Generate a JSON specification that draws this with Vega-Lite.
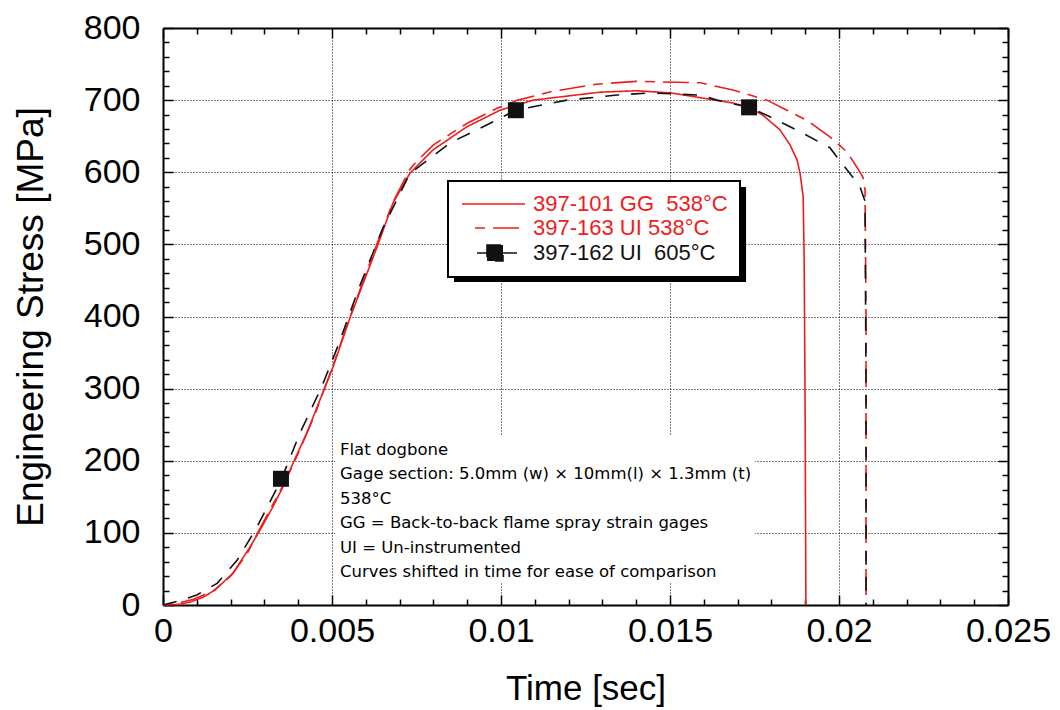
{
  "$schema": "https://vega.github.io/schema/vega-lite/v6.json",
  "autosize": "none",
  "width": 845,
  "height": 577,
  "padding": {"left": 163, "top": 28, "right": 52, "bottom": 105},
  "background": "white",
  "config": {
    "font": "Liberation Sans",
    "view": {"stroke": null},
    "axis": {
      "domainColor": "black", "domainWidth": 2,
      "tickColor": "black", "tickWidth": 1.5,
      "labelColor": "black", "titleColor": "black", "titleFontWeight": "normal",
      "labelFont": "Liberation Sans", "titleFont": "Liberation Sans"
    }
  },
  "data": {
    "values": [
      {"t": 0, "s": 0, "series": "397-101 GG\u00a0 538°C"},
      {"t": 0.0005, "s": 1, "series": "397-101 GG\u00a0 538°C"},
      {"t": 0.0008, "s": 4, "series": "397-101 GG\u00a0 538°C"},
      {"t": 0.0012, "s": 11, "series": "397-101 GG\u00a0 538°C"},
      {"t": 0.00154, "s": 21, "series": "397-101 GG\u00a0 538°C"},
      {"t": 0.00207, "s": 44, "series": "397-101 GG\u00a0 538°C"},
      {"t": 0.00257, "s": 80, "series": "397-101 GG\u00a0 538°C"},
      {"t": 0.00287, "s": 104, "series": "397-101 GG\u00a0 538°C"},
      {"t": 0.00325, "s": 136, "series": "397-101 GG\u00a0 538°C"},
      {"t": 0.00355, "s": 164, "series": "397-101 GG\u00a0 538°C"},
      {"t": 0.00385, "s": 197, "series": "397-101 GG\u00a0 538°C"},
      {"t": 0.00426, "s": 239, "series": "397-101 GG\u00a0 538°C"},
      {"t": 0.00464, "s": 284, "series": "397-101 GG\u00a0 538°C"},
      {"t": 0.00503, "s": 330, "series": "397-101 GG\u00a0 538°C"},
      {"t": 0.00553, "s": 398, "series": "397-101 GG\u00a0 538°C"},
      {"t": 0.00633, "s": 496, "series": "397-101 GG\u00a0 538°C"},
      {"t": 0.0068, "s": 557, "series": "397-101 GG\u00a0 538°C"},
      {"t": 0.00731, "s": 599, "series": "397-101 GG\u00a0 538°C"},
      {"t": 0.00799, "s": 631, "series": "397-101 GG\u00a0 538°C"},
      {"t": 0.00899, "s": 663, "series": "397-101 GG\u00a0 538°C"},
      {"t": 0.00997, "s": 686, "series": "397-101 GG\u00a0 538°C"},
      {"t": 0.01095, "s": 700, "series": "397-101 GG\u00a0 538°C"},
      {"t": 0.01293, "s": 711, "series": "397-101 GG\u00a0 538°C"},
      {"t": 0.014, "s": 713, "series": "397-101 GG\u00a0 538°C"},
      {"t": 0.01503, "s": 710, "series": "397-101 GG\u00a0 538°C"},
      {"t": 0.01686, "s": 696, "series": "397-101 GG\u00a0 538°C"},
      {"t": 0.01734, "s": 690, "series": "397-101 GG\u00a0 538°C"},
      {"t": 0.01775, "s": 679, "series": "397-101 GG\u00a0 538°C"},
      {"t": 0.01825, "s": 659, "series": "397-101 GG\u00a0 538°C"},
      {"t": 0.01855, "s": 638, "series": "397-101 GG\u00a0 538°C"},
      {"t": 0.01876, "s": 617, "series": "397-101 GG\u00a0 538°C"},
      {"t": 0.01885, "s": 598, "series": "397-101 GG\u00a0 538°C"},
      {"t": 0.01894, "s": 566, "series": "397-101 GG\u00a0 538°C"},
      {"t": 0.01897, "s": 478, "series": "397-101 GG\u00a0 538°C"},
      {"t": 0.019, "s": 250, "series": "397-101 GG\u00a0 538°C"},
      {"t": 0.01902, "s": 0, "series": "397-101 GG\u00a0 538°C"},

      {"t": 0, "s": 0, "series": "397-163 UI 538°C"},
      {"t": 0.0004, "s": 2, "series": "397-163 UI 538°C"},
      {"t": 0.0009, "s": 8, "series": "397-163 UI 538°C"},
      {"t": 0.0015, "s": 20, "series": "397-163 UI 538°C"},
      {"t": 0.002, "s": 40, "series": "397-163 UI 538°C"},
      {"t": 0.0025, "s": 72, "series": "397-163 UI 538°C"},
      {"t": 0.0028, "s": 100, "series": "397-163 UI 538°C"},
      {"t": 0.0032, "s": 135, "series": "397-163 UI 538°C"},
      {"t": 0.0036, "s": 170, "series": "397-163 UI 538°C"},
      {"t": 0.004, "s": 210, "series": "397-163 UI 538°C"},
      {"t": 0.0045, "s": 265, "series": "397-163 UI 538°C"},
      {"t": 0.005, "s": 328, "series": "397-163 UI 538°C"},
      {"t": 0.0055, "s": 395, "series": "397-163 UI 538°C"},
      {"t": 0.0063, "s": 497, "series": "397-163 UI 538°C"},
      {"t": 0.0068, "s": 558, "series": "397-163 UI 538°C"},
      {"t": 0.0073, "s": 604, "series": "397-163 UI 538°C"},
      {"t": 0.0075, "s": 615, "series": "397-163 UI 538°C"},
      {"t": 0.008, "s": 638, "series": "397-163 UI 538°C"},
      {"t": 0.009, "s": 668, "series": "397-163 UI 538°C"},
      {"t": 0.0099, "s": 689, "series": "397-163 UI 538°C"},
      {"t": 0.0105, "s": 700, "series": "397-163 UI 538°C"},
      {"t": 0.0115, "s": 712, "series": "397-163 UI 538°C"},
      {"t": 0.0128, "s": 722, "series": "397-163 UI 538°C"},
      {"t": 0.014, "s": 726, "series": "397-163 UI 538°C"},
      {"t": 0.0159, "s": 724, "series": "397-163 UI 538°C"},
      {"t": 0.01686, "s": 714, "series": "397-163 UI 538°C"},
      {"t": 0.01787, "s": 700, "series": "397-163 UI 538°C"},
      {"t": 0.01846, "s": 686, "series": "397-163 UI 538°C"},
      {"t": 0.01905, "s": 672, "series": "397-163 UI 538°C"},
      {"t": 0.01973, "s": 649, "series": "397-163 UI 538°C"},
      {"t": 0.02024, "s": 628, "series": "397-163 UI 538°C"},
      {"t": 0.02053, "s": 607, "series": "397-163 UI 538°C"},
      {"t": 0.02071, "s": 593, "series": "397-163 UI 538°C"},
      {"t": 0.02077, "s": 575, "series": "397-163 UI 538°C"},
      {"t": 0.0208, "s": 400, "series": "397-163 UI 538°C"},
      {"t": 0.0208, "s": 0, "series": "397-163 UI 538°C"},

      {"t": 0, "s": 0, "series": "397-162 UI\u00a0 605°C"},
      {"t": 0.0005, "s": 6, "series": "397-162 UI\u00a0 605°C"},
      {"t": 0.001, "s": 14, "series": "397-162 UI\u00a0 605°C"},
      {"t": 0.0016, "s": 30, "series": "397-162 UI\u00a0 605°C"},
      {"t": 0.00219, "s": 62, "series": "397-162 UI\u00a0 605°C"},
      {"t": 0.00278, "s": 108, "series": "397-162 UI\u00a0 605°C"},
      {"t": 0.00349, "s": 173, "series": "397-162 UI\u00a0 605°C"},
      {"t": 0.00405, "s": 238, "series": "397-162 UI\u00a0 605°C"},
      {"t": 0.0047, "s": 303, "series": "397-162 UI\u00a0 605°C"},
      {"t": 0.0052, "s": 362, "series": "397-162 UI\u00a0 605°C"},
      {"t": 0.0058, "s": 440, "series": "397-162 UI\u00a0 605°C"},
      {"t": 0.0065, "s": 522, "series": "397-162 UI\u00a0 605°C"},
      {"t": 0.0073, "s": 598, "series": "397-162 UI\u00a0 605°C"},
      {"t": 0.0085, "s": 641, "series": "397-162 UI\u00a0 605°C"},
      {"t": 0.0093, "s": 659, "series": "397-162 UI\u00a0 605°C"},
      {"t": 0.01044, "s": 686, "series": "397-162 UI\u00a0 605°C"},
      {"t": 0.01195, "s": 700, "series": "397-162 UI\u00a0 605°C"},
      {"t": 0.01343, "s": 707, "series": "397-162 UI\u00a0 605°C"},
      {"t": 0.01441, "s": 710, "series": "397-162 UI\u00a0 605°C"},
      {"t": 0.01589, "s": 707, "series": "397-162 UI\u00a0 605°C"},
      {"t": 0.01639, "s": 700, "series": "397-162 UI\u00a0 605°C"},
      {"t": 0.01734, "s": 690, "series": "397-162 UI\u00a0 605°C"},
      {"t": 0.01796, "s": 677, "series": "397-162 UI\u00a0 605°C"},
      {"t": 0.01885, "s": 656, "series": "397-162 UI\u00a0 605°C"},
      {"t": 0.01973, "s": 634, "series": "397-162 UI\u00a0 605°C"},
      {"t": 0.01994, "s": 621, "series": "397-162 UI\u00a0 605°C"},
      {"t": 0.02041, "s": 593, "series": "397-162 UI\u00a0 605°C"},
      {"t": 0.02062, "s": 580, "series": "397-162 UI\u00a0 605°C"},
      {"t": 0.02077, "s": 560, "series": "397-162 UI\u00a0 605°C"},
      {"t": 0.0208, "s": 300, "series": "397-162 UI\u00a0 605°C"},
      {"t": 0.0208, "s": 0, "series": "397-162 UI\u00a0 605°C"}
    ]
  },
  "resolve": {"axis": {"x": "independent", "y": "independent"}},
  "layer": [
    {
      "data": {"values": [{}]},
      "mark": {"type": "rect", "fill": "white"},
      "encoding": {
        "x": {"datum": 0.00509, "type": "quantitative", "axis": null},
        "x2": {"datum": 0.01751},
        "y": {"datum": 235.7, "type": "quantitative", "axis": null},
        "y2": {"datum": 30.5}
      }
    },
    {
      "data": {"values": [{}]},
      "mark": {
        "type": "text", "align": "left", "baseline": "alphabetic",
        "font": "DejaVu Sans", "fontSize": 16.5, "lineHeight": 24.4, "color": "black",
        "text": ["Flat dogbone", "Gage section: 5.0mm (w) × 10mm(l) × 1.3mm (t)", "538°C", "GG = Back-to-back flame spray strain gages", "UI = Un-instrumented", "Curves shifted in time for ease of comparison"]
      },
      "encoding": {
        "x": {"datum": 0.005237, "type": "quantitative", "axis": null},
        "y": {"datum": 208, "type": "quantitative", "axis": null}
      }
    },
    {
      "data": {"values": [{}]},
      "mark": {"type": "rect", "fill": "black"},
      "encoding": {
        "x": {"datum": 0.00861, "type": "quantitative", "axis": null},
        "x2": {"datum": 0.01725},
        "y": {"datum": 579.5, "type": "quantitative", "axis": null},
        "y2": {"datum": 447.8}
      }
    },
    {
      "mark": {"type": "line", "strokeWidth": 1.6},
      "encoding": {
        "x": {
          "field": "t", "type": "quantitative",
          "scale": {"domain": [0, 0.025], "nice": false},
          "axis": {
            "orient": "bottom",
            "title": "Time [sec]", "titleFontSize": 35, "titlePadding": 19,
            "values": [0,0.001,0.002,0.003,0.004,0.005,0.006,0.007,0.008,0.009,0.01,0.011,0.012,0.013,0.014,0.015,0.016,0.017,0.018,0.019,0.02,0.021,0.022,0.023,0.024,0.025],
            "labelExpr": "round(datum.value*1000) % 5 === 0 ? format(datum.value, '~g') : ''",
            "labelFontSize": 34, "labelPadding": 19, "labelFlush": false, "labelOverlap": false, "labelBound": false,
            "tickSize": {"condition": {"test": "round(datum.value*1000) % 5 === 0", "value": -10}, "value": -6},
            "grid": true, "gridColor": "black", "gridDash": [1, 2], "gridWidth": 1,
            "gridOpacity": {"condition": {"test": "round(datum.value*1000) % 5 === 0", "value": 1}, "value": 0}
          }
        },
        "y": {
          "field": "s", "type": "quantitative",
          "scale": {"domain": [0, 800], "nice": false},
          "axis": {
            "orient": "left",
            "title": "Engineering Stress [MPa]", "titleFontSize": 37, "titlePadding": 33,
            "values": [0,20,40,60,80,100,120,140,160,180,200,220,240,260,280,300,320,340,360,380,400,420,440,460,480,500,520,540,560,580,600,620,640,660,680,700,720,740,760,780,800],
            "labelExpr": "datum.value % 100 === 0 ? datum.label : ''",
            "labelFontSize": 34, "labelPadding": 33, "labelOverlap": false, "labelBound": false, "labelFlush": false,
            "tickSize": {"condition": {"test": "datum.value % 100 === 0", "value": -10}, "value": -6},
            "grid": true, "gridColor": "black", "gridDash": [1, 2], "gridWidth": 1,
            "gridOpacity": {"condition": {"test": "datum.value % 100 === 0", "value": 1}, "value": 0}
          }
        },
        "color": {
          "field": "series", "type": "nominal",
          "scale": {"domain": ["397-101 GG\u00a0 538°C", "397-163 UI 538°C", "397-162 UI\u00a0 605°C"], "range": ["#f01c1c", "#f01c1c", "#111111"]},
          "legend": {
            "orient": "none", "legendX": 285, "legendY": 153, "title": null,
            "padding": 12, "fillColor": "white", "strokeColor": "black",
            "symbolType": "M-1.8,0H10.8", "symbolSize": 100, "symbolStrokeWidth": 1.6,
            "labelOffset": 51, "labelFont": "Liberation Sans", "labelFontSize": 22, "labelLimit": 0,
            "rowPadding": 2,
            "encode": {
              "legend": {"update": {"strokeWidth": {"value": 2}}},
              "labels": {"update": {"fill": [{"test": "indexof(datum.value, '162') >= 0", "value": "#111111"}, {"value": "#f01c1c"}]}},
              "symbols": {
                "update": {
                  "shape": [{"test": "indexof(datum.value, '162') >= 0", "value": "M1.2,0H10.2M3.2,-1.6H6.4V1.6H3.2Z"}, {"test": "indexof(datum.value, '163') >= 0", "value": "M0.8,0H10.8"}, {"value": "M-1.8,0H10.8"}],
                  "fill": [{"test": "indexof(datum.value, '162') >= 0", "value": "#111111"}, {"value": "transparent"}],
                  "strokeDash": [{"test": "indexof(datum.value, '162') >= 0", "value": [14, 12]}, {"test": "indexof(datum.value, '163') >= 0", "value": [10, 8, 26, 8]}, {"value": [1, 0]}]
                }
              }
            }
          }
        },
        "strokeDash": {
          "field": "series", "type": "nominal", "legend": null,
          "scale": {"domain": ["397-101 GG\u00a0 538°C", "397-163 UI 538°C", "397-162 UI\u00a0 605°C"], "range": [[1, 0], [10, 8, 26, 8], [14, 12]]}
        },
        "order": {"value": null}
      }
    },
    {
      "data": {
        "values": [
          {"t": 0.00349, "s": 175},
          {"t": 0.01044, "s": 686},
          {"t": 0.01734, "s": 690}
        ]
      },
      "mark": {"type": "point", "shape": "square", "filled": true, "size": 256, "color": "#111111", "opacity": 1},
      "encoding": {
        "x": {
          "field": "t", "type": "quantitative",
          "axis": {
            "orient": "top", "title": null, "labels": false, "grid": false,
            "values": [0,0.001,0.002,0.003,0.004,0.005,0.006,0.007,0.008,0.009,0.01,0.011,0.012,0.013,0.014,0.015,0.016,0.017,0.018,0.019,0.02,0.021,0.022,0.023,0.024,0.025],
            "tickSize": {"condition": {"test": "round(datum.value*1000) % 5 === 0", "value": -10}, "value": -6}
          }
        },
        "y": {
          "field": "s", "type": "quantitative",
          "axis": {
            "orient": "right", "title": null, "labels": false, "grid": false,
            "values": [0,20,40,60,80,100,120,140,160,180,200,220,240,260,280,300,320,340,360,380,400,420,440,460,480,500,520,540,560,580,600,620,640,660,680,700,720,740,760,780,800],
            "tickSize": {"condition": {"test": "datum.value % 100 === 0", "value": -10}, "value": -6}
          }
        }
      }
    }
  ]
}
